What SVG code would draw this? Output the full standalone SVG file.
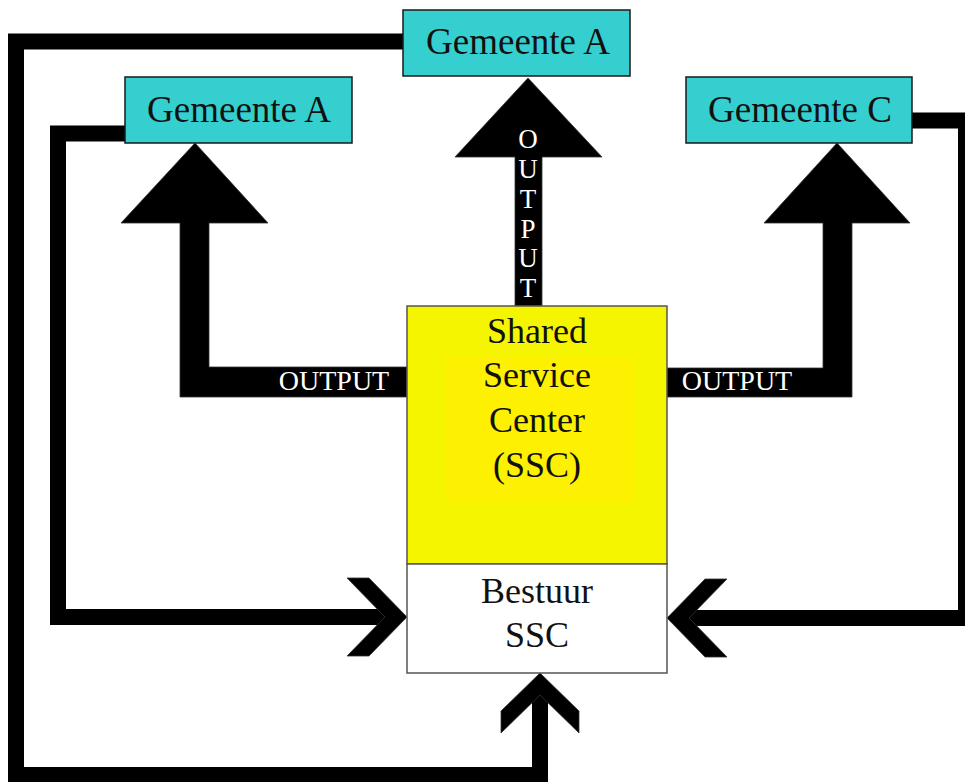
<svg xmlns="http://www.w3.org/2000/svg" width="965" height="782" viewBox="0 0 965 782">
<style>
.bg{fill:#ffffff}
.line{fill:none;stroke:#000;stroke-width:16;stroke-linejoin:miter;stroke-linecap:butt}
.arrow{fill:#000;stroke:#333;stroke-width:0.8;stroke-linejoin:miter}
.gem{fill:#36cfcf;stroke:#1a1a1a;stroke-width:1.5}
.ssc{fill:#f5f500;stroke:#555;stroke-width:1.5}
.bestuur{fill:#ffffff;stroke:#555;stroke-width:1.5}
.t{font-family:"Liberation Serif","Times New Roman",serif;fill:#111;text-anchor:middle}
.big{font-size:37px}
.mid{font-size:36px}
.out{font-family:"Liberation Serif","Times New Roman",serif;fill:#fff;font-size:27px;text-anchor:middle}
</style>
<rect class="bg" x="0" y="0" width="965" height="782"/>
<g id="connectors">
  <!-- feedback loops -->
  <path class="line" d="M404 41.5 H16 V775 H540 V690"/>
  <path class="line" d="M126 133.5 H58 V617 H390"/>
  <path class="line" d="M912 120.5 H966 V618 H686"/>
  <!-- chevron heads -->
  <polygon class="arrow" points="407,617 369,578 347,578 385,617 347,656 369,656"/>
  <polygon class="arrow" points="667,618 705,579 727,579 689,618 727,657 705,657"/>
  <polygon class="arrow" points="540,673 579,711 579,733 540,695 501,733 501,711"/>
  <!-- output arrows -->
  <polygon class="arrow" points="195,143 268,223 209,223 209,367 407,367 407,397 180,397 180,223 121,223"/>
  <polygon class="arrow" points="837,143 910,223 852,223 852,397 666,397 666,368 823,368 823,223 764,223"/>
  <polygon class="arrow" points="528,78 602,157 542,157 542,306 515,306 515,157 455,157"/>
  <!-- output labels -->
  <text class="out" x="334" y="390" font-size="28" style="font-size:28px">OUTPUT</text>
  <text class="out" x="737" y="390" style="font-size:28px">OUTPUT</text>
  <text class="out" x="528" y="148">O</text>
  <text class="out" x="528" y="178">U</text>
  <text class="out" x="528" y="208">T</text>
  <text class="out" x="528" y="238">P</text>
  <text class="out" x="528" y="267">U</text>
  <text class="out" x="528" y="297">T</text>
</g>
<g id="gemeente-a-top">
  <rect class="gem" x="403" y="10" width="227" height="66"/>
  <text class="t big" x="518" y="54">Gemeente A</text>
</g>
<g id="gemeente-a-left">
  <rect class="gem" x="125" y="77" width="227" height="66"/>
  <text class="t big" x="239" y="122">Gemeente A</text>
</g>
<g id="gemeente-c">
  <rect class="gem" x="686" y="77" width="226" height="66"/>
  <text class="t big" x="800" y="122">Gemeente C</text>
</g>
<g id="ssc">
  <rect class="ssc" x="407" y="306" width="260" height="258"/>
  <rect x="445" y="358" width="188" height="145" fill="#fdf000"/>
  <text class="t mid" x="537" y="343">Shared</text>
  <text class="t mid" x="537" y="387">Service</text>
  <text class="t mid" x="537" y="432">Center</text>
  <text class="t mid" x="537" y="477">(SSC)</text>
</g>
<g id="bestuur-ssc">
  <rect class="bestuur" x="407" y="564" width="260" height="109"/>
  <text class="t mid" x="537" y="603">Bestuur</text>
  <text class="t mid" x="537" y="647">SSC</text>
</g>
</svg>
